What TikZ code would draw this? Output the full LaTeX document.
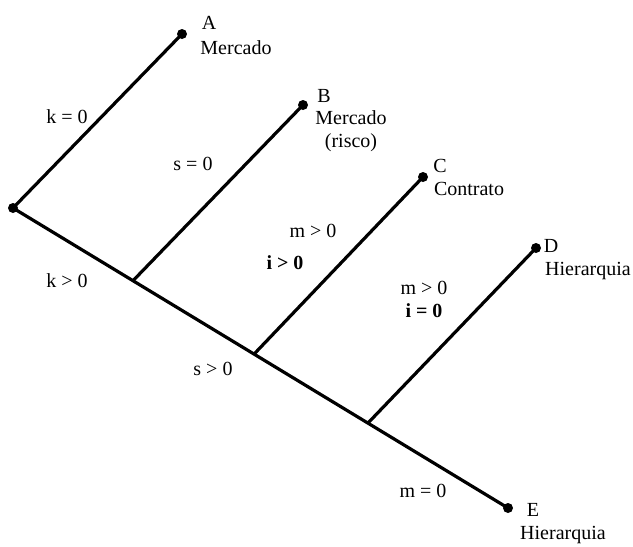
\documentclass[tikz,border=0pt]{standalone}
\usepackage{fontspec}
\setmainfont{Liberation Serif}
\usetikzlibrary{calc}
\begin{document}
\begin{tikzpicture}[x=1pt,y=-1pt,
  dot/.style={circle,fill=black,inner sep=0pt,minimum size=10pt},
  edge/.style={line width=3.2pt,line cap=butt},
  lbl/.style={inner sep=0pt,font=\fontsize{20}{23}\selectfont,align=center}]
\useasboundingbox (0,0) rectangle (633,547);
% points
\node[dot] (R) at (13,208) {};
\node[dot] (A) at (182,34) {};
\node[dot] (B) at (303,105) {};
\node[dot] (C) at (423,177) {};
\node[dot] (D) at (536,248) {};
\node[dot] (E) at (508,508) {};
\coordinate (bB) at ($(R.center)!0.2424!(E.center)$);
\coordinate (bC) at ($(R.center)!0.487!(E.center)$);
\coordinate (bD) at ($(R.center)!0.717!(E.center)$);
% lines
\draw[edge] (R.center) -- (A.center);
\draw[edge] (R.center) -- (E.center);
\draw[edge] (bB) -- (B.center);
\draw[edge] (bC) -- (C.center);
\draw[edge] (bD) -- (D.center);
% labels
\node[lbl] (tA) at (209,23) {A};
\node[lbl] (tAm) at (236,48) {Mercado};
\node[lbl] (tB) at (324,96) {B};
\node[lbl] (tBm) at (351,131) {Mercado\\(risco)};
\node[lbl] (tC) at (440,166) {C};
\node[lbl] (tCm) at (469,189) {Contrato};
\node[lbl] (tD) at (551,246) {D};
\node[lbl] (tDm) at (588,271) {Hierarquia};
\node[lbl] (tE) at (533,510) {E};
\node[lbl] (tEm) at (563,535) {Hierarquia};
\node[lbl] (k0) at (67,117) {k = 0};
\node[lbl] (kp) at (67,281) {k > 0};
\node[lbl] (s0) at (193,164) {s = 0};
\node[lbl] (sp) at (213,369) {s > 0};
\node[lbl] (mC) at (313,231) {m > 0};
\node[lbl] (iC) at (285,263) {\textbf{i > 0}};
\node[lbl] (mD) at (424,288) {m > 0};
\node[lbl] (iD) at (424,311) {\textbf{i = 0}};
\node[lbl] (m0) at (423,491) {m = 0};
\end{tikzpicture}
\end{document}
